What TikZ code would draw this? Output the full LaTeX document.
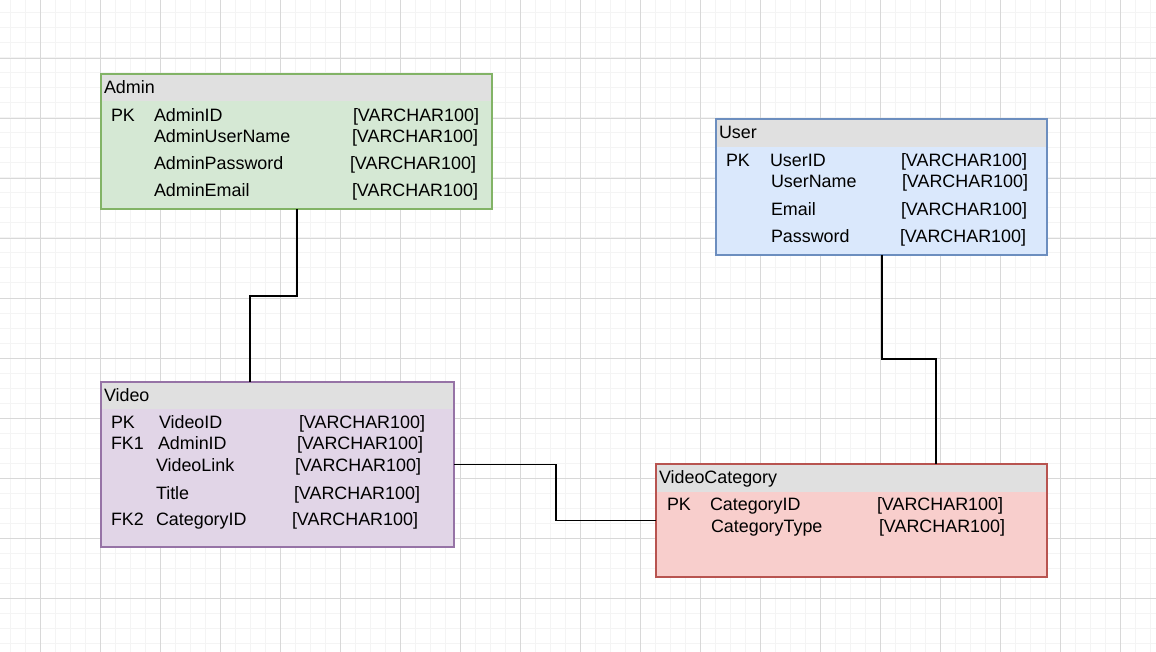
\documentclass[tikz,border=0pt]{standalone}
\usepackage{fontspec}
\setmainfont{Liberation Sans}
\definecolor{hdrgray}{HTML}{E0E0E0}
\definecolor{gfill}{HTML}{D5E8D4}\definecolor{gline}{HTML}{82B366}
\definecolor{bfill}{HTML}{DAE8FC}\definecolor{bline}{HTML}{6C8EBF}
\definecolor{pfill}{HTML}{E1D5E7}\definecolor{pline}{HTML}{9673A6}
\definecolor{rfill}{HTML}{F8CECC}\definecolor{rline}{HTML}{B85450}
\definecolor{minorgrid}{HTML}{F4F4F4}
\definecolor{majorgrid}{HTML}{D8D8D8}
\tikzset{
  tbl/.style 2 args={rectangle, anchor=north west, inner sep=0pt, outer sep=0pt,
    line width=1.2pt, fill=#1, draw=#2},
  hdr/.style={path picture={\fill[hdrgray] (path picture bounding box.north west)
      rectangle ([yshift=-#1pt]path picture bounding box.north east);}},
  txt/.style={anchor=west, inner sep=0pt, outer sep=0pt, text height=12.8pt,
    text depth=0pt, font=\fontsize{17.9}{21}\selectfont, text=black},
  link/.style={line width=1.2pt, black},
}
\begin{document}
\begin{tikzpicture}[x=1pt, y=-1pt]
\useasboundingbox (0,0) rectangle (1156,652);
\fill[white] (0,0) rectangle (1156,652);
% grid
\foreach \gx in {10,25,...,1150} \draw[minorgrid, line width=1pt] (\gx,0) -- (\gx,652);
\foreach \gy in {13,28,...,650} \draw[minorgrid, line width=1pt] (0,\gy) -- (1156,\gy);
\foreach \gx in {40,100,...,1150} \draw[majorgrid, line width=0.8pt] (\gx,0) -- (\gx,652);
\foreach \gy in {58,118,...,650} \draw[majorgrid, line width=0.8pt] (0,\gy) -- (1156,\gy);

% tables
\node[tbl={gfill}{gline}, hdr=27, minimum width=391pt, minimum height=135pt] (admin) at (101,74) {};
\node[tbl={bfill}{bline}, hdr=28, minimum width=331pt, minimum height=136pt] (user) at (716,119) {};
\node[tbl={pfill}{pline}, hdr=27, minimum width=353pt, minimum height=165pt] (video) at (101,382) {};
\node[tbl={rfill}{rline}, hdr=28, minimum width=391pt, minimum height=113pt] (vcat) at (656,464) {};

% connectors
\draw[link] ([xshift=196pt]admin.south west) -- ++(0,87) -| ([xshift=149pt]video.north west);
\draw[link] ([xshift=166pt]user.south west) -- ++(0,104) -| ([xshift=280pt]vcat.north west);
\draw[link] (video.east) -- ++(102,0) |- (vcat.west);

% Admin texts
\node[txt] (aT) at (104,87.5) {Admin};
\node[txt] (aPK) at (111,115) {PK};
\node[txt] (a1) at (154,115) {AdminID};
\node[txt] (a1t) at (353,115) {[VARCHAR100]};
\node[txt] (a2) at (154,136) {AdminUserName};
\node[txt] (a2t) at (352,136) {[VARCHAR100]};
\node[txt] (a3) at (154,163) {AdminPassword};
\node[txt] (a3t) at (350,163) {[VARCHAR100]};
\node[txt] (a4) at (154,190) {AdminEmail};
\node[txt] (a4t) at (352,190) {[VARCHAR100]};

% User texts
\node[txt] (uT) at (719,132) {User};
\node[txt] (uPK) at (726,160) {PK};
\node[txt] (u1) at (770,160) {UserID};
\node[txt] (u1t) at (901,160) {[VARCHAR100]};
\node[txt] (u2) at (771,181) {UserName};
\node[txt] (u2t) at (902,181) {[VARCHAR100]};
\node[txt] (u3) at (771,209) {Email};
\node[txt] (u3t) at (901,209) {[VARCHAR100]};
\node[txt] (u4) at (771,236) {Password};
\node[txt] (u4t) at (900,236) {[VARCHAR100]};

% Video texts
\node[txt] (vT) at (104,395) {Video};
\node[txt] (vPK) at (111,422) {PK};
\node[txt] (v1) at (159,422) {VideoID};
\node[txt] (v1t) at (299,422) {[VARCHAR100]};
\node[txt] (vFK1) at (111,443) {FK1};
\node[txt] (v2) at (158,443) {AdminID};
\node[txt] (v2t) at (297,443) {[VARCHAR100]};
\node[txt] (v3) at (156,465) {VideoLink};
\node[txt] (v3t) at (295,465) {[VARCHAR100]};
\node[txt] (v4) at (156,493) {Title};
\node[txt] (v4t) at (294,493) {[VARCHAR100]};
\node[txt] (vFK2) at (111,519) {FK2};
\node[txt] (v5) at (156,519) {CategoryID};
\node[txt] (v5t) at (292,519) {[VARCHAR100]};

% VideoCategory texts
\node[txt] (cT) at (659,477) {VideoCategory};
\node[txt] (cPK) at (667,504) {PK};
\node[txt] (c1) at (710,504) {CategoryID};
\node[txt] (c1t) at (877,504) {[VARCHAR100]};
\node[txt] (c2) at (711,526) {CategoryType};
\node[txt] (c2t) at (879,526) {[VARCHAR100]};
\end{tikzpicture}
\end{document}
